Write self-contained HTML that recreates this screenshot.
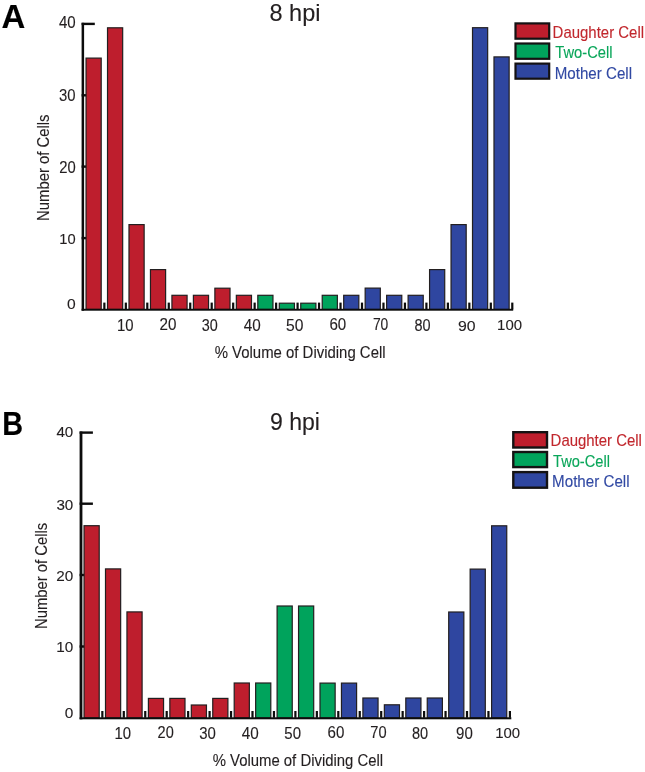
<!DOCTYPE html>
<html><head><meta charset="utf-8"><style>
html,body{margin:0;padding:0;background:#fff;width:645px;height:772px;overflow:hidden}
svg{display:block;font-family:"Liberation Sans", sans-serif;will-change:transform}
</style></head><body>
<svg width="645" height="772" viewBox="0 0 645 772">
<rect x="81.60" y="22.70" width="13.20" height="2.40" fill="#0c0c0c"/>
<rect x="81.60" y="94.10" width="13.20" height="2.40" fill="#0c0c0c"/>
<rect x="81.60" y="165.40" width="13.20" height="2.40" fill="#0c0c0c"/>
<rect x="81.60" y="236.90" width="13.20" height="2.40" fill="#0c0c0c"/>
<rect x="103.26" y="302.60" width="2.20" height="6.70" fill="#0c0c0c"/>
<rect x="124.73" y="302.60" width="2.20" height="6.70" fill="#0c0c0c"/>
<rect x="146.20" y="302.60" width="2.20" height="6.70" fill="#0c0c0c"/>
<rect x="167.67" y="302.60" width="2.20" height="6.70" fill="#0c0c0c"/>
<rect x="189.14" y="302.60" width="2.20" height="6.70" fill="#0c0c0c"/>
<rect x="210.61" y="302.60" width="2.20" height="6.70" fill="#0c0c0c"/>
<rect x="232.08" y="302.60" width="2.20" height="6.70" fill="#0c0c0c"/>
<rect x="253.55" y="302.60" width="2.20" height="6.70" fill="#0c0c0c"/>
<rect x="275.02" y="302.60" width="2.20" height="6.70" fill="#0c0c0c"/>
<rect x="296.49" y="302.60" width="2.20" height="6.70" fill="#0c0c0c"/>
<rect x="317.96" y="302.60" width="2.20" height="6.70" fill="#0c0c0c"/>
<rect x="339.43" y="302.60" width="2.20" height="6.70" fill="#0c0c0c"/>
<rect x="360.90" y="302.60" width="2.20" height="6.70" fill="#0c0c0c"/>
<rect x="382.37" y="302.60" width="2.20" height="6.70" fill="#0c0c0c"/>
<rect x="403.84" y="302.60" width="2.20" height="6.70" fill="#0c0c0c"/>
<rect x="425.31" y="302.60" width="2.20" height="6.70" fill="#0c0c0c"/>
<rect x="446.78" y="302.60" width="2.20" height="6.70" fill="#0c0c0c"/>
<rect x="468.25" y="302.60" width="2.20" height="6.70" fill="#0c0c0c"/>
<rect x="489.72" y="302.60" width="2.20" height="6.70" fill="#0c0c0c"/>
<rect x="511.19" y="302.60" width="2.20" height="6.70" fill="#0c0c0c"/>
<rect x="86.05" y="58.10" width="15.15" height="251.30" fill="#be1e2d" stroke="#231f20" stroke-width="1.2"/>
<rect x="107.52" y="27.80" width="15.15" height="281.60" fill="#be1e2d" stroke="#231f20" stroke-width="1.2"/>
<rect x="128.99" y="224.60" width="15.15" height="84.80" fill="#be1e2d" stroke="#231f20" stroke-width="1.2"/>
<rect x="150.46" y="269.60" width="15.15" height="39.80" fill="#be1e2d" stroke="#231f20" stroke-width="1.2"/>
<rect x="171.93" y="295.30" width="15.15" height="14.10" fill="#be1e2d" stroke="#231f20" stroke-width="1.2"/>
<rect x="193.40" y="295.30" width="15.15" height="14.10" fill="#be1e2d" stroke="#231f20" stroke-width="1.2"/>
<rect x="214.87" y="288.20" width="15.15" height="21.20" fill="#be1e2d" stroke="#231f20" stroke-width="1.2"/>
<rect x="236.34" y="295.30" width="15.15" height="14.10" fill="#be1e2d" stroke="#231f20" stroke-width="1.2"/>
<rect x="257.81" y="295.30" width="15.15" height="14.10" fill="#00a35c" stroke="#231f20" stroke-width="1.2"/>
<rect x="279.28" y="303.20" width="15.15" height="6.20" fill="#00a35c" stroke="#231f20" stroke-width="1.2"/>
<rect x="300.75" y="303.20" width="15.15" height="6.20" fill="#00a35c" stroke="#231f20" stroke-width="1.2"/>
<rect x="322.22" y="295.30" width="15.15" height="14.10" fill="#00a35c" stroke="#231f20" stroke-width="1.2"/>
<rect x="343.69" y="295.30" width="15.15" height="14.10" fill="#2f46a0" stroke="#231f20" stroke-width="1.2"/>
<rect x="365.16" y="288.10" width="15.15" height="21.30" fill="#2f46a0" stroke="#231f20" stroke-width="1.2"/>
<rect x="386.63" y="295.30" width="15.15" height="14.10" fill="#2f46a0" stroke="#231f20" stroke-width="1.2"/>
<rect x="408.10" y="295.30" width="15.15" height="14.10" fill="#2f46a0" stroke="#231f20" stroke-width="1.2"/>
<rect x="429.57" y="269.60" width="15.15" height="39.80" fill="#2f46a0" stroke="#231f20" stroke-width="1.2"/>
<rect x="451.04" y="224.60" width="15.15" height="84.80" fill="#2f46a0" stroke="#231f20" stroke-width="1.2"/>
<rect x="472.51" y="27.70" width="15.15" height="281.70" fill="#2f46a0" stroke="#231f20" stroke-width="1.2"/>
<rect x="493.98" y="56.90" width="15.15" height="252.50" fill="#2f46a0" stroke="#231f20" stroke-width="1.2"/>
<rect x="81.60" y="22.80" width="2.50" height="287.90" fill="#0c0c0c"/>
<rect x="81.60" y="308.80" width="431.60" height="1.90" fill="#0c0c0c"/>
<rect x="79.60" y="431.40" width="13.30" height="2.40" fill="#0c0c0c"/>
<rect x="79.60" y="502.50" width="13.30" height="2.40" fill="#0c0c0c"/>
<rect x="79.60" y="573.80" width="13.30" height="2.40" fill="#0c0c0c"/>
<rect x="79.60" y="645.30" width="13.30" height="2.40" fill="#0c0c0c"/>
<rect x="101.25" y="711.00" width="2.20" height="6.80" fill="#0c0c0c"/>
<rect x="122.70" y="711.00" width="2.20" height="6.80" fill="#0c0c0c"/>
<rect x="144.15" y="711.00" width="2.20" height="6.80" fill="#0c0c0c"/>
<rect x="165.60" y="711.00" width="2.20" height="6.80" fill="#0c0c0c"/>
<rect x="187.05" y="711.00" width="2.20" height="6.80" fill="#0c0c0c"/>
<rect x="208.50" y="711.00" width="2.20" height="6.80" fill="#0c0c0c"/>
<rect x="229.95" y="711.00" width="2.20" height="6.80" fill="#0c0c0c"/>
<rect x="251.40" y="711.00" width="2.20" height="6.80" fill="#0c0c0c"/>
<rect x="272.85" y="711.00" width="2.20" height="6.80" fill="#0c0c0c"/>
<rect x="294.30" y="711.00" width="2.20" height="6.80" fill="#0c0c0c"/>
<rect x="315.75" y="711.00" width="2.20" height="6.80" fill="#0c0c0c"/>
<rect x="337.20" y="711.00" width="2.20" height="6.80" fill="#0c0c0c"/>
<rect x="358.65" y="711.00" width="2.20" height="6.80" fill="#0c0c0c"/>
<rect x="380.10" y="711.00" width="2.20" height="6.80" fill="#0c0c0c"/>
<rect x="401.55" y="711.00" width="2.20" height="6.80" fill="#0c0c0c"/>
<rect x="423.00" y="711.00" width="2.20" height="6.80" fill="#0c0c0c"/>
<rect x="444.45" y="711.00" width="2.20" height="6.80" fill="#0c0c0c"/>
<rect x="465.90" y="711.00" width="2.20" height="6.80" fill="#0c0c0c"/>
<rect x="487.35" y="711.00" width="2.20" height="6.80" fill="#0c0c0c"/>
<rect x="508.80" y="711.00" width="2.20" height="6.80" fill="#0c0c0c"/>
<rect x="84.05" y="525.70" width="15.15" height="192.20" fill="#be1e2d" stroke="#231f20" stroke-width="1.2"/>
<rect x="105.50" y="568.90" width="15.15" height="149.00" fill="#be1e2d" stroke="#231f20" stroke-width="1.2"/>
<rect x="126.95" y="611.90" width="15.15" height="106.00" fill="#be1e2d" stroke="#231f20" stroke-width="1.2"/>
<rect x="148.40" y="698.40" width="15.15" height="19.50" fill="#be1e2d" stroke="#231f20" stroke-width="1.2"/>
<rect x="169.85" y="698.40" width="15.15" height="19.50" fill="#be1e2d" stroke="#231f20" stroke-width="1.2"/>
<rect x="191.30" y="705.00" width="15.15" height="12.90" fill="#be1e2d" stroke="#231f20" stroke-width="1.2"/>
<rect x="212.75" y="698.40" width="15.15" height="19.50" fill="#be1e2d" stroke="#231f20" stroke-width="1.2"/>
<rect x="234.20" y="683.00" width="15.15" height="34.90" fill="#be1e2d" stroke="#231f20" stroke-width="1.2"/>
<rect x="255.65" y="683.00" width="15.15" height="34.90" fill="#00a35c" stroke="#231f20" stroke-width="1.2"/>
<rect x="277.10" y="606.00" width="15.15" height="111.90" fill="#00a35c" stroke="#231f20" stroke-width="1.2"/>
<rect x="298.55" y="606.00" width="15.15" height="111.90" fill="#00a35c" stroke="#231f20" stroke-width="1.2"/>
<rect x="320.00" y="683.10" width="15.15" height="34.80" fill="#00a35c" stroke="#231f20" stroke-width="1.2"/>
<rect x="341.45" y="683.10" width="15.15" height="34.80" fill="#2f46a0" stroke="#231f20" stroke-width="1.2"/>
<rect x="362.90" y="698.00" width="15.15" height="19.90" fill="#2f46a0" stroke="#231f20" stroke-width="1.2"/>
<rect x="384.35" y="704.80" width="15.15" height="13.10" fill="#2f46a0" stroke="#231f20" stroke-width="1.2"/>
<rect x="405.80" y="698.00" width="15.15" height="19.90" fill="#2f46a0" stroke="#231f20" stroke-width="1.2"/>
<rect x="427.25" y="698.00" width="15.15" height="19.90" fill="#2f46a0" stroke="#231f20" stroke-width="1.2"/>
<rect x="448.70" y="612.00" width="15.15" height="105.90" fill="#2f46a0" stroke="#231f20" stroke-width="1.2"/>
<rect x="470.15" y="569.10" width="15.15" height="148.80" fill="#2f46a0" stroke="#231f20" stroke-width="1.2"/>
<rect x="491.60" y="525.80" width="15.15" height="192.10" fill="#2f46a0" stroke="#231f20" stroke-width="1.2"/>
<rect x="79.60" y="431.50" width="2.80" height="287.80" fill="#0c0c0c"/>
<rect x="79.60" y="717.30" width="431.70" height="2.00" fill="#0c0c0c"/>
<rect x="515.50" y="23.40" width="33.70" height="15.30" fill="#be1e2d" stroke="#141213" stroke-width="2.2"/>
<rect x="515.50" y="43.50" width="33.70" height="15.30" fill="#00a35c" stroke="#141213" stroke-width="2.2"/>
<rect x="515.50" y="63.60" width="33.70" height="15.10" fill="#2f46a0" stroke="#141213" stroke-width="2.2"/>
<text transform="translate(552.60,37.80) scale(0.9357,1)" font-size="16" fill="#c1272d" stroke="#c1272d" stroke-width="0.128">Daughter Cell</text>
<text transform="translate(555.21,57.70) scale(0.9215,1)" font-size="16" fill="#0aa65a" stroke="#0aa65a" stroke-width="0.130">Two-Cell</text>
<text transform="translate(554.69,78.90) scale(0.9466,1)" font-size="16" fill="#3149a3" stroke="#3149a3" stroke-width="0.127">Mother Cell</text>
<rect x="513.30" y="432.20" width="33.70" height="15.30" fill="#be1e2d" stroke="#141213" stroke-width="2.4"/>
<rect x="513.30" y="452.00" width="33.70" height="15.10" fill="#00a35c" stroke="#141213" stroke-width="2.4"/>
<rect x="513.30" y="472.10" width="33.70" height="15.60" fill="#2f46a0" stroke="#141213" stroke-width="2.4"/>
<text transform="translate(550.60,445.80) scale(0.9346,1)" font-size="16" fill="#c1272d" stroke="#c1272d" stroke-width="0.128">Daughter Cell</text>
<text transform="translate(553.01,466.60) scale(0.9166,1)" font-size="16" fill="#0aa65a" stroke="#0aa65a" stroke-width="0.131">Two-Cell</text>
<text transform="translate(552.09,486.90) scale(0.9479,1)" font-size="16" fill="#3149a3" stroke="#3149a3" stroke-width="0.127">Mother Cell</text>
<text transform="translate(269.44,20.90) scale(1.0240,1)" font-size="23" fill="#231f20" stroke="#231f20" stroke-width="0.117">8 hpi</text>
<text transform="translate(269.96,430.00) scale(1.0029,1)" font-size="23" fill="#231f20" stroke="#231f20" stroke-width="0.120">9 hpi</text>
<text transform="translate(1.38,27.80) scale(0.9853,1)" font-size="33.47826086956522" fill="#000" stroke="#000" stroke-width="0.122" font-weight="bold">A</text>
<text transform="translate(2.32,434.80) scale(0.8544,1)" font-size="33.768115942029006" fill="#000" stroke="#000" stroke-width="0.140" font-weight="bold">B</text>
<text transform="translate(58.90,27.74) scale(0.9554,1)" font-size="15.774647887323944" fill="#231f20" stroke="#231f20" stroke-width="0.126">40</text>
<text transform="translate(59.10,100.94) scale(0.9517,1)" font-size="15.633802816901401" fill="#231f20" stroke="#231f20" stroke-width="0.126">30</text>
<text transform="translate(59.16,172.74) scale(0.9401,1)" font-size="15.774647887323969" fill="#231f20" stroke="#231f20" stroke-width="0.128">20</text>
<text transform="translate(59.30,243.95) scale(0.9575,1)" font-size="15.352112676056347" fill="#231f20" stroke="#231f20" stroke-width="0.125">10</text>
<text transform="translate(66.97,309.25) scale(1.0368,1)" font-size="15.070422535211252" fill="#231f20" stroke="#231f20" stroke-width="0.116">0</text>
<text transform="translate(56.40,436.55) scale(1.0063,1)" font-size="15.070422535211252" fill="#231f20" stroke="#231f20" stroke-width="0.119">40</text>
<text transform="translate(56.39,509.75) scale(0.9972,1)" font-size="15.21126760563374" fill="#231f20" stroke="#231f20" stroke-width="0.120">30</text>
<text transform="translate(56.23,580.55) scale(1.0164,1)" font-size="15.070422535211332" fill="#231f20" stroke="#231f20" stroke-width="0.118">20</text>
<text transform="translate(56.25,652.25) scale(1.0058,1)" font-size="15.21126760563374" fill="#231f20" stroke="#231f20" stroke-width="0.119">10</text>
<text transform="translate(64.68,717.75) scale(1.0135,1)" font-size="15.21126760563374" fill="#231f20" stroke="#231f20" stroke-width="0.118">0</text>
<text transform="translate(116.98,330.54) scale(0.9531,1)" font-size="15.633802816901362" fill="#231f20" stroke="#231f20" stroke-width="0.126">10</text>
<text transform="translate(114.38,738.54) scale(0.9531,1)" font-size="15.633802816901442" fill="#231f20" stroke="#231f20" stroke-width="0.126">10</text>
<text transform="translate(159.44,329.94) scale(0.9735,1)" font-size="15.633802816901442" fill="#231f20" stroke="#231f20" stroke-width="0.123">20</text>
<text transform="translate(157.57,737.94) scale(0.9298,1)" font-size="15.633802816901442" fill="#231f20" stroke="#231f20" stroke-width="0.129">20</text>
<text transform="translate(201.82,330.54) scale(0.9208,1)" font-size="15.633802816901362" fill="#231f20" stroke="#231f20" stroke-width="0.130">30</text>
<text transform="translate(199.30,738.54) scale(0.9579,1)" font-size="15.633802816901442" fill="#231f20" stroke="#231f20" stroke-width="0.125">30</text>
<text transform="translate(243.69,331.24) scale(0.9674,1)" font-size="15.774647887323928" fill="#231f20" stroke="#231f20" stroke-width="0.124">40</text>
<text transform="translate(241.79,739.24) scale(0.9674,1)" font-size="15.774647887323848" fill="#231f20" stroke="#231f20" stroke-width="0.124">40</text>
<text transform="translate(286.07,331.24) scale(0.9922,1)" font-size="15.774647887323928" fill="#231f20" stroke="#231f20" stroke-width="0.121">50</text>
<text transform="translate(284.30,739.24) scale(0.9494,1)" font-size="15.774647887323848" fill="#231f20" stroke="#231f20" stroke-width="0.126">50</text>
<text transform="translate(329.44,329.94) scale(0.9673,1)" font-size="15.633802816901442" fill="#231f20" stroke="#231f20" stroke-width="0.124">60</text>
<text transform="translate(327.54,737.94) scale(0.9673,1)" font-size="15.633802816901442" fill="#231f20" stroke="#231f20" stroke-width="0.124">60</text>
<text transform="translate(372.91,329.94) scale(0.8861,1)" font-size="15.633802816901442" fill="#231f20" stroke="#231f20" stroke-width="0.135">70</text>
<text transform="translate(370.27,737.94) scale(0.9361,1)" font-size="15.633802816901442" fill="#231f20" stroke="#231f20" stroke-width="0.128">70</text>
<text transform="translate(414.45,330.54) scale(0.9253,1)" font-size="15.633802816901362" fill="#231f20" stroke="#231f20" stroke-width="0.130">80</text>
<text transform="translate(411.94,738.54) scale(0.9315,1)" font-size="15.633802816901442" fill="#231f20" stroke="#231f20" stroke-width="0.129">80</text>
<text transform="translate(457.99,330.95) scale(1.0308,1)" font-size="15.352112676056386" fill="#231f20" stroke="#231f20" stroke-width="0.116">90</text>
<text transform="translate(456.12,738.94) scale(0.9626,1)" font-size="15.633802816901442" fill="#231f20" stroke="#231f20" stroke-width="0.125">90</text>
<text transform="translate(497.08,330.15) scale(0.9760,1)" font-size="15.352112676056386" fill="#231f20" stroke="#231f20" stroke-width="0.123">100</text>
<text transform="translate(495.18,738.16) scale(1.0533,1)" font-size="14.225352112675928" fill="#231f20" stroke="#231f20" stroke-width="0.114">100</text>
<text transform="translate(214.68,357.70) scale(0.9457,1)" font-size="15.8" fill="#231f20" stroke="#231f20" stroke-width="0.127">% Volume of Dividing Cell</text>
<text transform="translate(212.68,765.70) scale(0.9430,1)" font-size="15.8" fill="#231f20" stroke="#231f20" stroke-width="0.127">% Volume of Dividing Cell</text>
<text transform="translate(49.20,220.99) rotate(-90) scale(0.9411,1)" font-size="15.8" fill="#231f20" stroke="#231f20" stroke-width="0.128">Number of Cells</text>
<text transform="translate(47.00,628.99) rotate(-90) scale(0.9161,1)" font-size="16.2" fill="#231f20" stroke="#231f20" stroke-width="0.131">Number of Cells</text>
</svg>
</body></html>
